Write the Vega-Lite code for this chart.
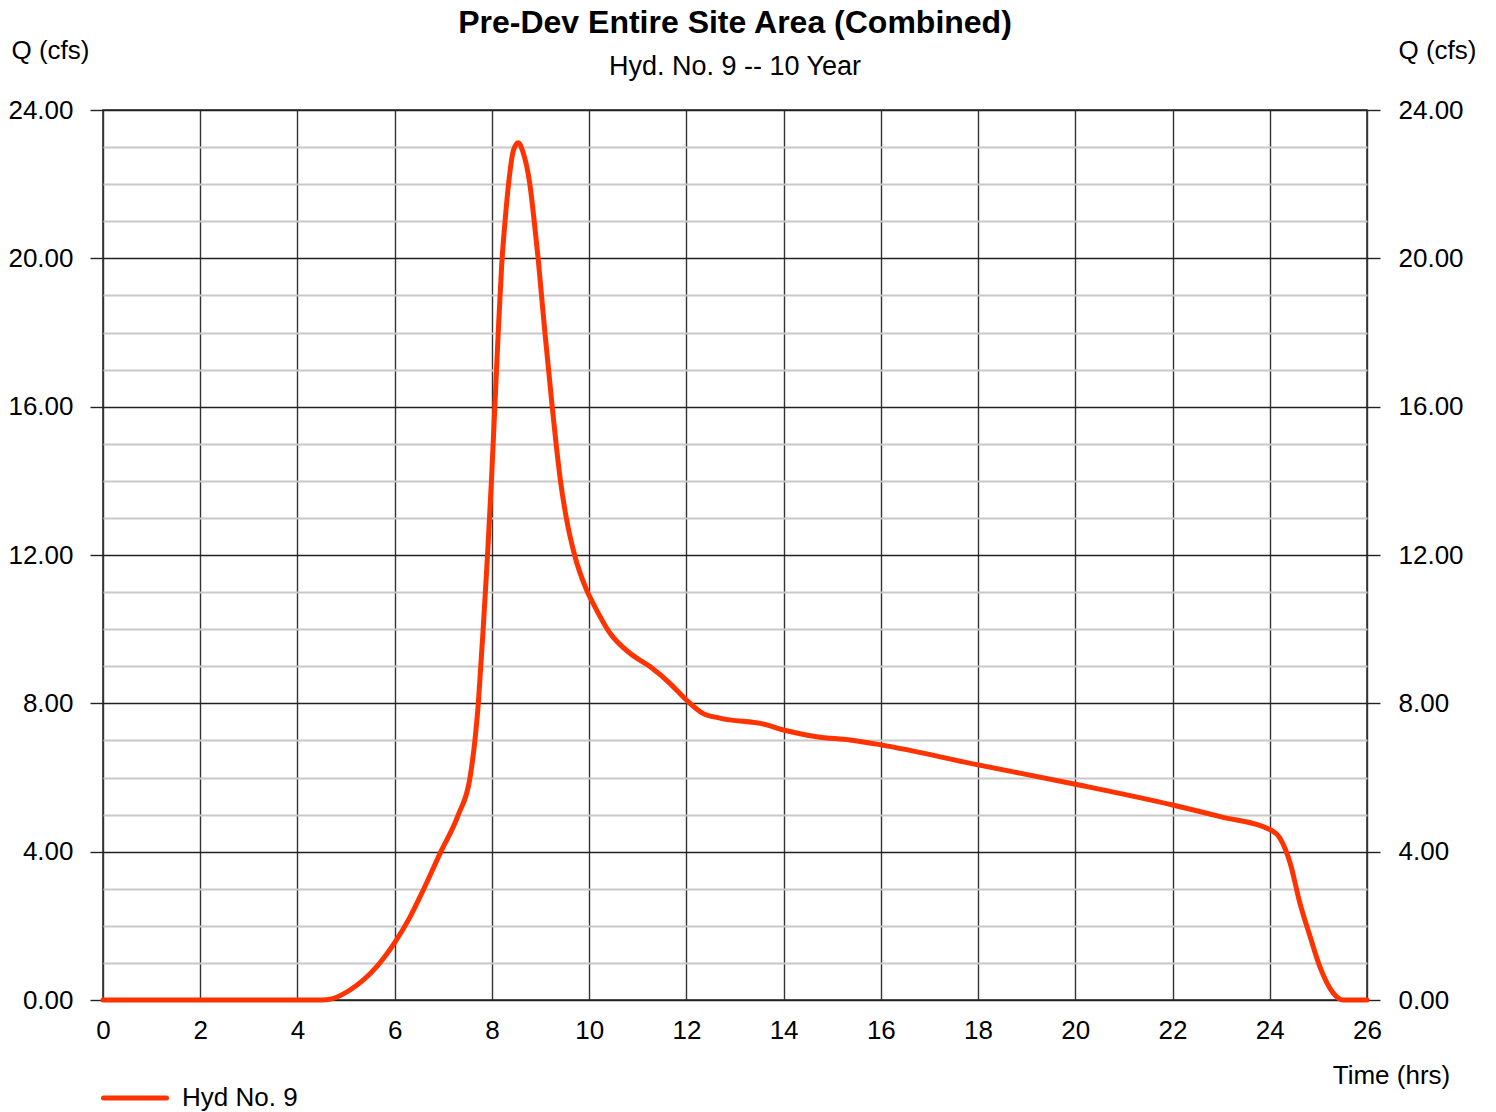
{
  "$schema": "https://vega.github.io/schema/vega-lite/v6.json",
  "width": 1264,
  "height": 890,
  "autosize": {"type": "none"},
  "padding": {"left": 103, "top": 110, "right": 129, "bottom": 112},
  "background": "white",
  "config": {
    "font": "Liberation Sans",
    "view": {"stroke": "#222", "strokeWidth": 1.5}
  },
  "title": {
    "text": "Pre-Dev Entire Site Area (Combined)",
    "subtitle": "Hyd. No. 9 -- 10 Year",
    "frame": "group",
    "anchor": "middle",
    "font": "Liberation Sans",
    "fontSize": 32,
    "fontWeight": "bold",
    "color": "black",
    "subtitleFont": "Liberation Sans",
    "subtitleFontSize": 27,
    "subtitleColor": "black",
    "subtitlePadding": 14,
    "offset": -44
  },
  "data": {
    "values": [
      {"t": 0, "q": 0, "s": "Hyd No. 9"},
      {"t": 4.5, "q": 0, "s": "Hyd No. 9"},
      {"t": 4.7, "q": 0.03, "s": "Hyd No. 9"},
      {"t": 5.08, "q": 0.27, "s": "Hyd No. 9"},
      {"t": 5.63, "q": 0.9, "s": "Hyd No. 9"},
      {"t": 6.0, "q": 1.55, "s": "Hyd No. 9"},
      {"t": 6.3, "q": 2.2, "s": "Hyd No. 9"},
      {"t": 6.6, "q": 3.0, "s": "Hyd No. 9"},
      {"t": 6.95, "q": 4.0, "s": "Hyd No. 9"},
      {"t": 7.31, "q": 5.0, "s": "Hyd No. 9"},
      {"t": 7.55, "q": 6.0, "s": "Hyd No. 9"},
      {"t": 7.65, "q": 7.0, "s": "Hyd No. 9"},
      {"t": 7.72, "q": 8.0, "s": "Hyd No. 9"},
      {"t": 7.77, "q": 9.0, "s": "Hyd No. 9"},
      {"t": 7.82, "q": 10.0, "s": "Hyd No. 9"},
      {"t": 7.91, "q": 12.0, "s": "Hyd No. 9"},
      {"t": 7.99, "q": 14.0, "s": "Hyd No. 9"},
      {"t": 8.06, "q": 16.0, "s": "Hyd No. 9"},
      {"t": 8.13, "q": 18.0, "s": "Hyd No. 9"},
      {"t": 8.2, "q": 19.8, "s": "Hyd No. 9"},
      {"t": 8.27, "q": 21.0, "s": "Hyd No. 9"},
      {"t": 8.35, "q": 22.1, "s": "Hyd No. 9"},
      {"t": 8.44, "q": 22.9, "s": "Hyd No. 9"},
      {"t": 8.54, "q": 23.12, "s": "Hyd No. 9"},
      {"t": 8.63, "q": 22.9, "s": "Hyd No. 9"},
      {"t": 8.78, "q": 22.0, "s": "Hyd No. 9"},
      {"t": 8.87, "q": 21.0, "s": "Hyd No. 9"},
      {"t": 8.95, "q": 20.0, "s": "Hyd No. 9"},
      {"t": 9.02, "q": 19.0, "s": "Hyd No. 9"},
      {"t": 9.09, "q": 18.0, "s": "Hyd No. 9"},
      {"t": 9.165, "q": 17.0, "s": "Hyd No. 9"},
      {"t": 9.24, "q": 16.0, "s": "Hyd No. 9"},
      {"t": 9.32, "q": 15.0, "s": "Hyd No. 9"},
      {"t": 9.41, "q": 14.0, "s": "Hyd No. 9"},
      {"t": 9.53, "q": 13.0, "s": "Hyd No. 9"},
      {"t": 9.7, "q": 12.0, "s": "Hyd No. 9"},
      {"t": 9.95, "q": 11.05, "s": "Hyd No. 9"},
      {"t": 10.1, "q": 10.65, "s": "Hyd No. 9"},
      {"t": 10.43, "q": 9.89, "s": "Hyd No. 9"},
      {"t": 10.84, "q": 9.35, "s": "Hyd No. 9"},
      {"t": 11.25, "q": 8.99, "s": "Hyd No. 9"},
      {"t": 11.66, "q": 8.54, "s": "Hyd No. 9"},
      {"t": 12.0, "q": 8.09, "s": "Hyd No. 9"},
      {"t": 12.34, "q": 7.73, "s": "Hyd No. 9"},
      {"t": 12.69, "q": 7.6, "s": "Hyd No. 9"},
      {"t": 13.65, "q": 7.42, "s": "Hyd No. 9"},
      {"t": 14.0, "q": 7.28, "s": "Hyd No. 9"},
      {"t": 14.68, "q": 7.1, "s": "Hyd No. 9"},
      {"t": 15.37, "q": 7.01, "s": "Hyd No. 9"},
      {"t": 16, "q": 6.88, "s": "Hyd No. 9"},
      {"t": 18, "q": 6.34, "s": "Hyd No. 9"},
      {"t": 20, "q": 5.82, "s": "Hyd No. 9"},
      {"t": 22, "q": 5.26, "s": "Hyd No. 9"},
      {"t": 23, "q": 4.94, "s": "Hyd No. 9"},
      {"t": 24, "q": 4.6, "s": "Hyd No. 9"},
      {"t": 24.21, "q": 4.36, "s": "Hyd No. 9"},
      {"t": 24.42, "q": 3.69, "s": "Hyd No. 9"},
      {"t": 24.62, "q": 2.61, "s": "Hyd No. 9"},
      {"t": 24.83, "q": 1.71, "s": "Hyd No. 9"},
      {"t": 25.03, "q": 0.9, "s": "Hyd No. 9"},
      {"t": 25.31, "q": 0.18, "s": "Hyd No. 9"},
      {"t": 25.51, "q": 0, "s": "Hyd No. 9"},
      {"t": 26, "q": 0, "s": "Hyd No. 9"}
    ]
  },
  "layer": [
    {
      "mark": {"type": "line", "strokeWidth": 5, "strokeCap": "round", "strokeJoin": "round", "interpolate": "monotone"},
      "encoding": {
        "x": {
          "field": "t", "type": "quantitative",
          "scale": {"domain": [0, 26], "nice": false, "zero": false},
          "axis": {
            "values": [0, 2, 4, 6, 8, 10, 12, 14, 16, 18, 20, 22, 24, 26],
            "title": "Time (hrs)",
            "titleFont": "Liberation Sans", "titleFontSize": 26, "titleFontWeight": "normal", "titleColor": "black",
            "titleAlign": "center", "titleAnchor": null, "titleX": 1288, "titleY": 83, "titleBaseline": "alphabetic",
            "labelFont": "Liberation Sans", "labelFontSize": 26, "labelColor": "black", "labelPadding": 17,
            "labelFlush": false, "labelOverlap": false,
            "ticks": false, "tickSize": 0, "domain": false,
            "grid": true, "gridColor": "#333", "gridWidth": 1.4, "gridOpacity": 1
          }
        },
        "y": {
          "field": "q", "type": "quantitative",
          "scale": {"domain": [0, 24], "nice": false, "zero": true},
          "axis": {
            "orient": "left",
            "values": [0, 1, 2, 3, 4, 5, 6, 7, 8, 9, 10, 11, 12, 13, 14, 15, 16, 17, 18, 19, 20, 21, 22, 23, 24],
            "labelExpr": "datum.value % 4 === 0 ? format(datum.value, '.2f') : ''",
            "labelFont": "Liberation Sans", "labelFontSize": 26, "labelColor": "black", "labelPadding": 17,
            "labelFlush": false, "labelOverlap": false,
            "title": "Q (cfs)",
            "titleFont": "Liberation Sans", "titleFontSize": 26, "titleFontWeight": "normal", "titleColor": "black",
            "titleAngle": 0, "titleAlign": "center", "titleAnchor": null, "titleX": -53, "titleY": -52, "titleBaseline": "alphabetic",
            "domain": false,
            "ticks": true, "tickSize": 13, "tickWidth": 1.4, "tickColor": "#222",
            "tickOpacity": {"condition": {"test": "datum.value % 4 === 0", "value": 1}, "value": 0},
            "grid": true,
            "gridColor": {"condition": {"test": "datum.value % 4 === 0", "value": "#222"}, "value": "#c8c8c8"},
            "gridWidth": {"condition": {"test": "datum.value % 4 === 0", "value": 1.4}, "value": 1.8},
            "gridOpacity": 1
          }
        },
        "color": {
          "field": "s", "type": "nominal",
          "scale": {"range": ["#ff3300"]},
          "legend": {
            "title": null,
            "orient": "none",
            "legendX": -2,
            "legendY": 954,
            "padding": 0,
            "symbolType": "stroke",
            "symbolSize": 3969,
            "symbolStrokeWidth": 5,
            "labelOffset": 13,
            "labelFont": "Liberation Sans",
            "labelFontSize": 26,
            "labelColor": "black",
            "labelLimit": 400,
            "encode": {"symbols": {"update": {"strokeCap": {"value": "round"}}}}
          }
        }
      }
    },
    {
      "mark": {"type": "line", "strokeOpacity": 0, "interpolate": "monotone"},
      "encoding": {
        "x": {
          "field": "t", "type": "quantitative",
          "scale": {"domain": [0, 26], "nice": false, "zero": false}
        },
        "y": {
          "field": "q", "type": "quantitative",
          "scale": {"domain": [0, 24], "nice": false, "zero": true},
          "axis": {
            "orient": "right",
            "values": [0, 4, 8, 12, 16, 20, 24],
            "format": ".2f",
            "labelFont": "Liberation Sans", "labelFontSize": 26, "labelColor": "black", "labelPadding": 18,
            "labelFlush": false, "labelOverlap": false,
            "title": "Q (cfs)",
            "titleFont": "Liberation Sans", "titleFontSize": 26, "titleFontWeight": "normal", "titleColor": "black",
            "titleAngle": 0, "titleAlign": "center", "titleAnchor": null, "titleX": 70, "titleY": -52, "titleBaseline": "alphabetic",
            "domain": false,
            "ticks": true, "tickSize": 13, "tickWidth": 1.4, "tickColor": "#222",
            "grid": false
          }
        }
      }
    }
  ],
  "resolve": {"scale": {"y": "independent"}, "axis": {"y": "independent"}}
}
